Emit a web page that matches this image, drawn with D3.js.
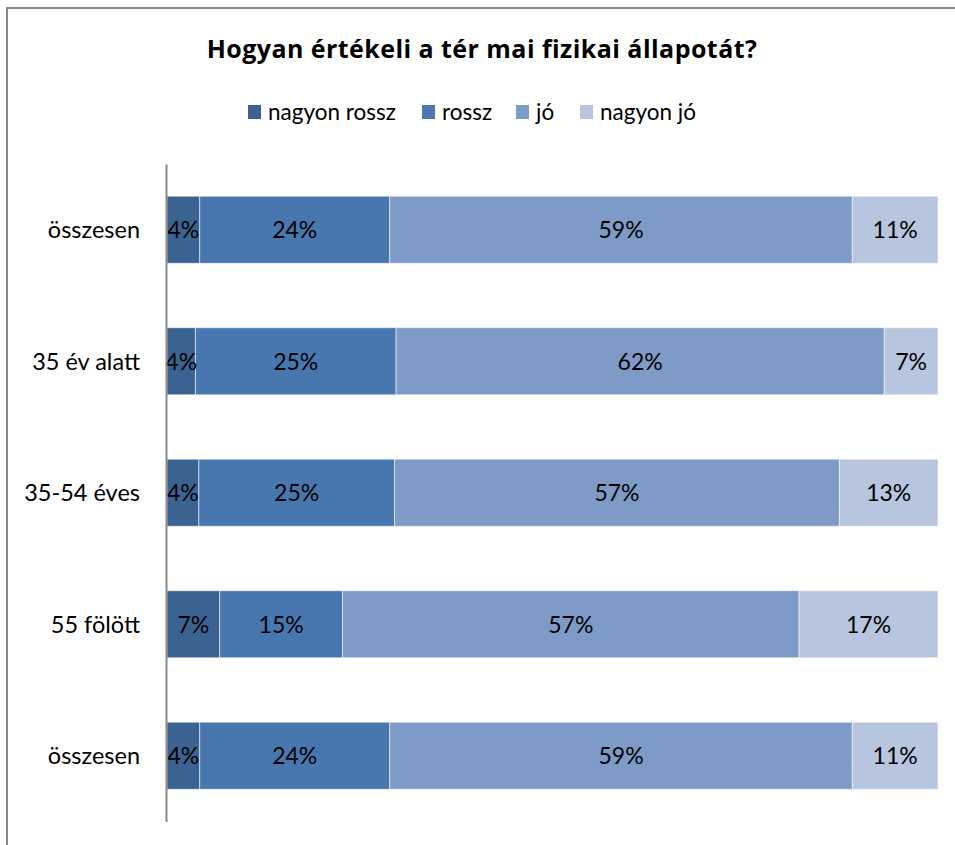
<!DOCTYPE html>
<html>
<head>
<meta charset="utf-8">
<script src="https://cdn.jsdelivr.net/npm/d3@7"></script>
<style>
  html, body { margin: 0; padding: 0; background: #fff; }
  svg { display: block; }
  text { font-family: Lato, "Open Sans", sans-serif; }
</style>
</head>
<body>
<svg id="chart" width="955" height="845"></svg>
<script>
// ---- data ----
const title = "Hogyan értékeli a tér mai fizikai állapotát?";
const categories = ["összesen", "35 év alatt", "35-54 éves", "55 fölött", "összesen"];
const seriesNames = ["nagyon rossz", "rossz", "jó", "nagyon jó"];
const nagyonRossz = [4.2, 3.6, 4.1, 6.6, 4.2];
const rossz       = [24.4, 25.4, 25.2, 15.4, 24.4];
const jo          = [59.4, 61.8, 57.3, 57.2, 59.4];
const nagyonJo    = [11.0, 6.8, 12.7, 17.4, 11.0];
const colors = ["#3b6392", "#4877b0", "#7e9bc8", "#b7c5df"];

// ---- build table ----
const seriesValues = [nagyonRossz, rossz, jo, nagyonJo];
const rows = categories.map((c, i) => {
  const o = { idx: i, cat: c };
  seriesNames.forEach((s, k) => { o[s] = seriesValues[k][i]; });
  return o;
});

const svg = d3.select("#chart");

// outer chart border (left + top visible)
svg.append("path")
  .attr("d", "M7,850 L7,8 L960,8")
  .attr("fill", "none")
  .attr("stroke", "#898989")
  .attr("stroke-width", 2);

// title
svg.append("text")
  .attr("x", 482).attr("y", 58)
  .attr("text-anchor", "middle")
  .attr("font-size", 25).attr("font-weight", "bold")
  .attr("letter-spacing", 0.45)
  .style("font-family", "'Open Sans', sans-serif")
  .attr("fill", "#000")
  .text(title);

// scales
const x = d3.scaleLinear().domain([0, 1]).range([167, 938]);
const y = d3.scaleBand().domain(rows.map(d => d.idx)).range([164, 821.5]).paddingInner(0.49).paddingOuter(0.245);

// stack (100% normalized)
const stack = d3.stack().keys(seriesNames).offset(d3.stackOffsetExpand);
const stacked = stack(rows);

const g = svg.append("g");
const layers = g.selectAll("g.layer").data(stacked).join("g")
  .attr("class", "layer")
  .attr("fill", (d, i) => colors[i]);

layers.selectAll("rect").data(d => d).join("rect")
  .attr("x", d => x(d[0]))
  .attr("y", d => y(d.data.idx))
  .attr("width", d => x(d[1]) - x(d[0]))
  .attr("height", y.bandwidth())
  .attr("stroke", "#ffffff")
  .attr("stroke-opacity", 0.55)
  .attr("stroke-width", 1);

// data labels
const fmt = v => d3.format(".0f")(v) + "%";
stacked.forEach((layer, k) => {
  g.selectAll(null).data(layer).join("text")
    .attr("x", d => (x(d[0]) + x(d[1])) / 2)
    .attr("y", d => y(d.data.idx) + y.bandwidth() / 2)
    .attr("dy", "0.36em")
    .attr("text-anchor", "middle")
    .attr("font-size", 23)
    .attr("fill", "#000")
    .text(d => fmt(d.data[layer.key]));
});

// y axis
const yAxis = d3.axisLeft(y).tickSize(0).tickSizeOuter(0).tickPadding(26)
  .tickFormat(i => categories[i]);
const ax = svg.append("g").attr("transform", "translate(166,0)").call(yAxis);
ax.select(".domain").attr("stroke", "#898989").attr("stroke-width", 2);
ax.selectAll(".tick text")
  .attr("font-size", 23.5)
  .attr("fill", "#000")
  .attr("dy", "0.36em")
  .style("font-family", "Lato, 'Open Sans', sans-serif");

// legend
const legend = svg.append("g");
const legendStarts = [248, 422, 516, 580];
seriesNames.forEach((s, i) => {
  const lg = legend.append("g").attr("transform", `translate(${legendStarts[i]},0)`);
  lg.append("rect").attr("x", 0).attr("y", 105).attr("width", 13).attr("height", 14).attr("fill", colors[i]);
  lg.append("text").attr("x", 20).attr("y", 112).attr("dy", "0.36em")
    .attr("font-size", 22.5).attr("fill", "#000").text(s);
});
</script>
</body>
</html>
